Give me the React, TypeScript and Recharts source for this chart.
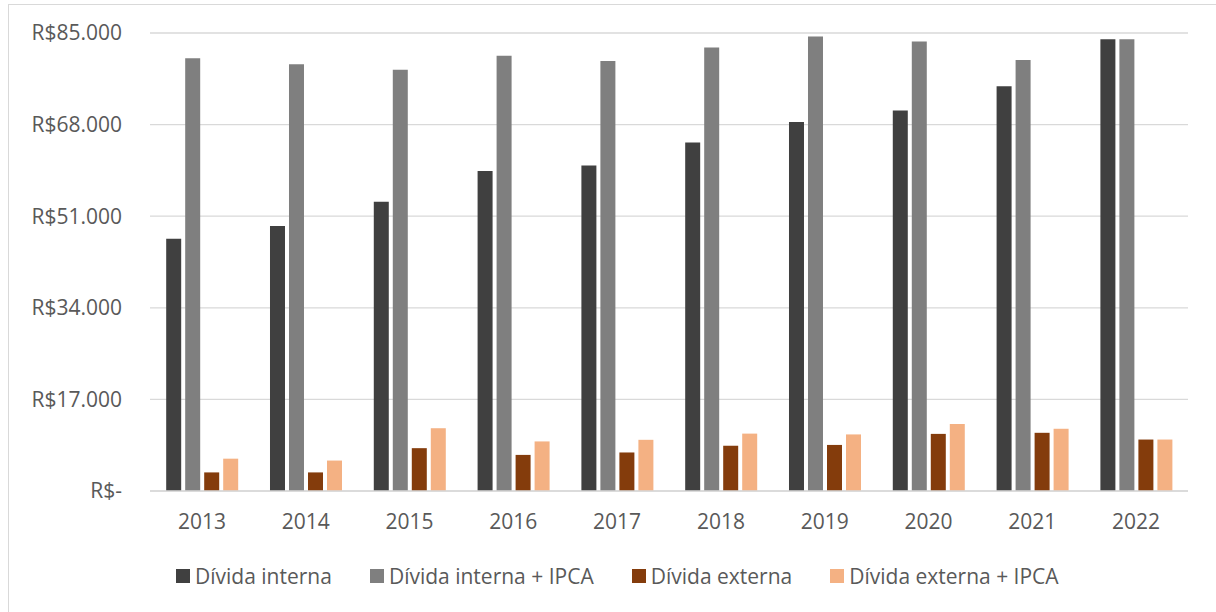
import { BarChart, Bar, XAxis, YAxis, CartesianGrid, Legend } from "recharts";

const years = ["2013", "2014", "2015", "2016", "2017", "2018", "2019", "2020", "2021", "2022"];
const dividaInterna = [46800, 49200, 53700, 59400, 60400, 64700, 68500, 70600, 75100, 83850];
const dividaInternaIpca = [80300, 79200, 78200, 80800, 79800, 82300, 84350, 83400, 80000, 83850];
const dividaExterna = [3450, 3450, 7950, 6700, 7150, 8400, 8550, 10600, 10800, 9550];
const dividaExternaIpca = [6000, 5650, 11650, 9200, 9500, 10650, 10500, 12450, 11550, 9550];
const yTicks = [0, 17000, 34000, 51000, 68000, 85000];

const series = [
  { key: "interna", name: "Dívida interna", color: "#404040" },
  { key: "internaIpca", name: "Dívida interna + IPCA", color: "#7f7f7f" },
  { key: "externa", name: "Dívida externa", color: "#843c0c" },
  { key: "externaIpca", name: "Dívida externa + IPCA", color: "#f4b183" },
];

const data = years.map((year, i) => ({
  year,
  interna: dividaInterna[i],
  internaIpca: dividaInternaIpca[i],
  externa: dividaExterna[i],
  externaIpca: dividaExternaIpca[i],
}));

const font = "'Open Sans', sans-serif";
const textColor = "#595959";
const gridColor = "#d9d9d9";

const formatReal = (v: number) =>
  v === 0 ? "R$-" : "R$" + v.toString().replace(/\B(?=(\d{3})+(?!\d))/g, ".");

const LegendContent = () => (
  <div style={{ display: "flex", gap: 38, paddingLeft: 176, fontFamily: font, fontSize: 21, color: textColor }}>
    {series.map((s) => (
      <div key={s.key} style={{ display: "flex", alignItems: "center", gap: 5 }}>
        <span style={{ width: 14, height: 14, background: s.color, display: "inline-block" }} />
        <span>{s.name}</span>
      </div>
    ))}
  </div>
);

const App = () => {
  return (
    <div style={{ position: "absolute", top: 0, left: 0, width: 1216, height: 612, overflow: "hidden", background: "#fff" }}>
      <div
        style={{
          position: "absolute",
          left: 8,
          top: 4,
          width: 1230,
          height: 640,
          border: `1px solid ${gridColor}`,
        }}
      />
      <BarChart
        width={1216}
        height={612}
        data={data}
        margin={{ top: 33, right: 28, left: 8, bottom: 91 }}
        barCategoryGap="15.6%"
        barGap={4}
        style={{ position: "absolute", top: 0, left: 0 }}
      >
        <CartesianGrid vertical={false} stroke={gridColor} strokeWidth={1.3} />
        <XAxis
          dataKey="year"
          height={30}
          tickLine={false}
          axisLine={{ stroke: gridColor, strokeWidth: 1.3 }}
          tickMargin={17}
          tick={{ fill: textColor, fontSize: 21, fontFamily: font }}
        />
        <YAxis
          width={142}
          domain={[0, 85000]}
          ticks={yTicks}
          tickFormatter={formatReal}
          axisLine={false}
          tickLine={false}
          tickMargin={22}
          tick={{ fill: textColor, fontSize: 21, fontFamily: font }}
        />
        <Legend
          verticalAlign="middle"
          align="center"
          content={<LegendContent />}
          wrapperStyle={{ top: 562, left: 0, width: 1216 }}
        />
        {series.map((s) => (
          <Bar key={s.key} dataKey={s.key} name={s.name} fill={s.color} isAnimationActive={false} />
        ))}
      </BarChart>
    </div>
  );
};

export default App;
